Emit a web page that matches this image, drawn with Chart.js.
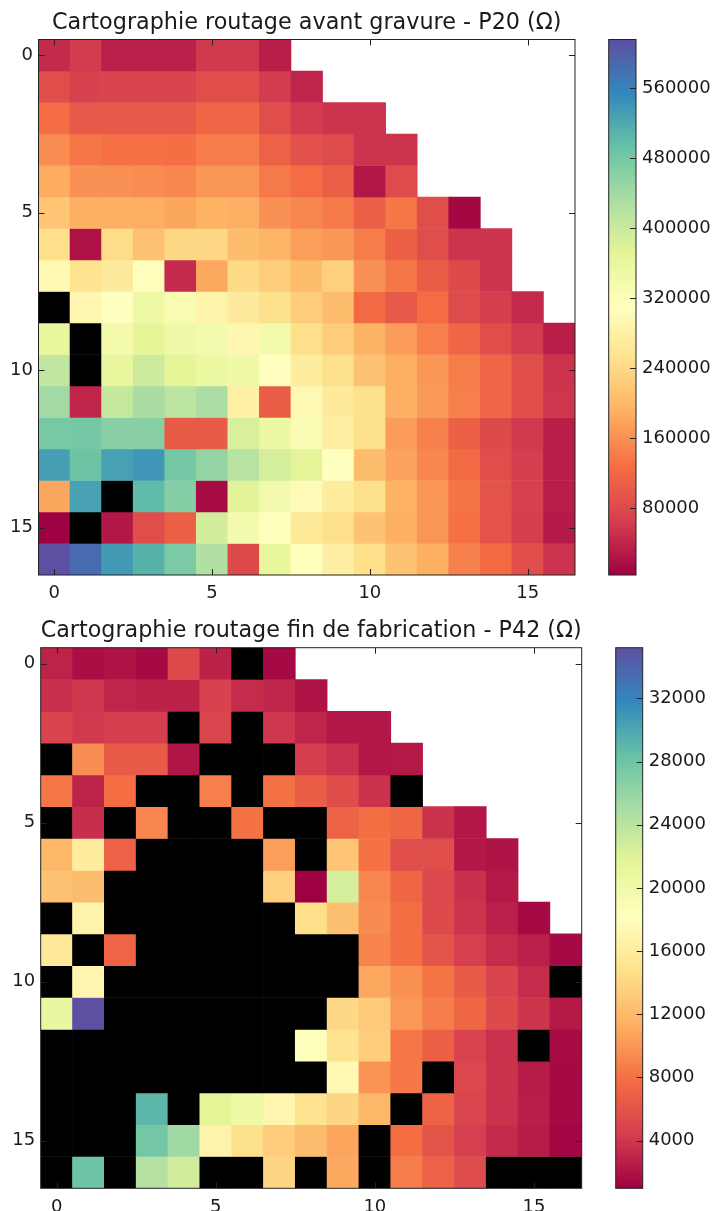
<!DOCTYPE html>
<html>
<head>
<meta charset="utf-8">
<script src="https://cdn.jsdelivr.net/npm/chart.js@4"></script>
<style>
body { margin: 0; background: #fff; }
canvas { position: absolute; }
</style>
</head>
<body>
<canvas id="map1" width="590" height="605" style="left:0;top:0"></canvas>
<canvas id="bar1" width="115" height="605" style="left:600px;top:0"></canvas>
<canvas id="map2" width="597" height="606" style="left:0;top:605px"></canvas>
<canvas id="bar2" width="100" height="606" style="left:607px;top:605px"></canvas>
<script>
// X = dead die (black), short rows leave the wafer corner white
var X = -1;

var columns = ['0','1','2','3','4','5','6','7','8','9','10','11','12','13','14','15','16'];
var spectral = ['#9e0142','#d53e4f','#f46d43','#fdae61','#fee08b','#ffffbf','#e6f598','#abdda4','#66c2a5','#3288bd','#5e4fa2'];

var title1 = 'Cartographie routage avant gravure - P20 (Ω)';
var range1 = [3400, 615400];
var ticks1 = [80000, 160000, 240000, 320000, 400000, 480000, 560000];
var rows1 = [
    [45000,62000,34000,34000,34000,60000,60000,32000],
    [86000,70000,72000,72000,72000,85000,85000,62000,40000],
    [125000,100000,100000,100000,100000,115000,115000,85000,62000,55000,55000],
    [155000,135000,130000,130000,128000,140000,140000,112000,90000,82000,55000,55000],
    [185000,160000,160000,155000,150000,165000,163000,138000,125000,108000,24000,82000],
    [215000,190000,190000,187000,180000,192000,190000,160000,150000,138000,108000,135000,85000,10000],
    [248000,20000,245000,210000,240000,238000,205000,195000,172000,165000,140000,110000,85000,55000,55000],
    [295000,255000,268000,305000,45000,182000,242000,225000,205000,228000,160000,135000,105000,80000,55000],
    [X,292000,310000,350000,330000,285000,268000,250000,225000,205000,122000,100000,125000,82000,65000,45000],
    [365000,X,340000,370000,345000,338000,292000,340000,248000,225000,193000,170000,143000,115000,85000,62000,32000],
    [410000,X,362000,395000,370000,355000,348000,308000,272000,250000,212000,188000,165000,140000,115000,85000,55000],
    [440000,40000,405000,433000,415000,432000,280000,105000,295000,268000,250000,190000,168000,143000,115000,85000,57000],
    [478000,480000,463000,463000,103000,103000,385000,355000,325000,275000,250000,170000,145000,110000,80000,60000,32000],
    [530000,488000,528000,538000,480000,452000,418000,388000,372000,310000,205000,178000,150000,122000,85000,65000,32000],
    [180000,528000,X,500000,465000,14000,375000,338000,300000,272000,250000,192000,165000,133000,92000,68000,32000],
    [3500,X,26000,85000,108000,390000,338000,312000,265000,248000,212000,190000,163000,130000,92000,65000,28000],
    [615000,585000,535000,510000,475000,425000,80000,362000,312000,278000,248000,212000,188000,145000,122000,85000,55000]
];

var title2 = 'Cartographie routage fin de fabrication - P42 (Ω)';
var range2 = [983, 35208];
var ticks2 = [4000, 8000, 12000, 16000, 20000, 24000, 28000, 32000];
var rows2 = [
    [2900,1700,2000,1500,5250,2800,X,1500],
    [3550,3950,3000,2850,2800,4700,3400,3000,2000],
    [4800,4100,4400,4400,X,5000,X,4000,3000,2200,2200],
    [X,9540,6500,6500,2100,X,X,X,4400,3700,2200,2300],
    [8300,2900,7800,X,X,8800,X,8000,6700,5500,3800,X],
    [X,3500,X,9200,X,X,8100,X,X,7100,7900,7300,3800,2200],
    [11900,16000,7000,X,X,X,X,10400,X,12800,8100,5600,5600,2200,2000],
    [12600,12300,X,X,X,X,X,13500,1000,22500,9200,7300,5200,3600,2300],
    [X,16700,X,X,X,X,X,X,14700,12500,9400,7900,5300,3900,2700,1500],
    [15700,X,7200,X,X,X,X,X,X,X,9000,7900,6100,4500,3400,2700,1500],
    [X,17000,X,X,X,X,X,X,X,X,11000,9700,8200,6500,4900,3400,X],
    [20800,35208,X,X,X,X,X,X,X,14200,13200,10100,8700,7300,5300,3900,2400],
    [X,X,X,X,X,X,X,X,18300,15000,13400,8300,6900,4800,3700,X,1600],
    [X,X,X,X,X,X,X,X,X,17300,9900,8400,X,5100,3800,2500,1500],
    [X,X,X,29000,X,21500,20300,17000,15000,13900,11900,X,7100,5000,3700,2600,1500],
    [X,X,X,27700,25500,16800,14800,13300,12200,10800,X,7800,6100,4500,3300,2500,1300],
    [X,28000,X,24300,22800,X,X,14000,X,11000,X,8700,7000,5400,X,X,X]
];

var textFont = {family: '"DejaVu Sans"', size: 18};
var titleFont = {family: '"DejaVu Sans"', size: 22.3, weight: 'normal'};
var textColor = '#1a1a1a';

function hexToRgb(hex) {
    return [parseInt(hex.substr(1,2),16), parseInt(hex.substr(3,2),16), parseInt(hex.substr(5,2),16)];
}

function colorOf(value, range) {
    if(value == X) return '#000000';
    var t = Math.min(1, Math.max(0, (value - range[0]) / (range[1] - range[0]))) * (spectral.length - 1);
    var i = Math.min(Math.floor(t), spectral.length - 2);
    var a = hexToRgb(spectral[i]), b = hexToRgb(spectral[i + 1]);
    var c = a.map(function(v, k) { return Math.round(v + (b[k] - v) * (t - i)); });
    return 'rgb(' + c.join(',') + ')';
}

// matplotlib style frame with inward ticks
var framePlugin = {
    id: 'frame',
    afterDraw: function(chart) {
        var ctx = chart.ctx, a = chart.chartArea, opts = chart.options.plugins.frame;
        ctx.save();
        ctx.strokeStyle = '#222';
        ctx.lineWidth = 1;
        ctx.beginPath();
        var y = chart.scales.y;
        y.ticks.forEach(function(t, i) {
            var py = Math.round(y.getPixelForTick(i)) + 0.5;
            if(opts.leftTicks) { ctx.moveTo(a.left, py); ctx.lineTo(a.left + 6, py); }
            ctx.moveTo(a.right, py); ctx.lineTo(a.right - 6, py);
        });
        if(opts.xTicks) {
            var x = chart.scales.x;
            x.ticks.forEach(function(t, i) {
                var px = Math.round(x.getPixelForTick(i)) + 0.5;
                ctx.moveTo(px, a.top); ctx.lineTo(px, a.top + 6);
                ctx.moveTo(px, a.bottom); ctx.lineTo(px, a.bottom - 6);
            });
        }
        ctx.stroke();
        ctx.strokeRect(a.left, a.top, a.right - a.left, a.bottom - a.top);
        ctx.restore();
    }
};

function drawMap(id, title, rows, range, area) {
    var datasets = rows.map(function(row, r) {
        return {
            data: row.map(function() { return [r - 0.5, r + 0.5]; }),
            backgroundColor: row.map(function(v) { return colorOf(v, range); }),
            borderWidth: 0,
            grouped: false,
            barPercentage: 1,
            categoryPercentage: 1
        };
    });
    new Chart(document.getElementById(id), {
        type: 'bar',
        data: {labels: columns, datasets: datasets},
        plugins: [framePlugin],
        options: {
            responsive: false,
            animation: false,
            events: [],
            layout: {padding: {right: area.right, left: 0, top: 0, bottom: 0}},
            plugins: {
                legend: {display: false},
                tooltip: {enabled: false},
                frame: {leftTicks: true, xTicks: true},
                title: {
                    display: true,
                    fullSize: false,
                    text: title,
                    color: textColor,
                    font: titleFont,
                    padding: {top: area.top - 29.76, bottom: 3}
                }
            },
            scales: {
                x: {
                    grid: {display: false, drawTicks: false},
                    border: {display: false},
                    afterBuildTicks: function(s) {
                        s.ticks = s.ticks.filter(function(t) { return t.value % 5 == 0; });
                    },
                    afterFit: function(s) { s.height = area.bottom; },
                    ticks: {autoSkip: false, maxRotation: 0, color: textColor, font: textFont, padding: 8}
                },
                y: {
                    reverse: true,
                    min: -0.5,
                    max: 16.5,
                    grid: {display: false, drawTicks: false},
                    border: {display: false},
                    afterBuildTicks: function(s) {
                        s.ticks = [0, 5, 10, 15].map(function(v) { return {value: v}; });
                    },
                    afterFit: function(s) { s.width = area.left; },
                    ticks: {color: textColor, font: textFont, padding: 5.5}
                }
            }
        }
    });
}

function drawColorbar(id, range, tickValues, area) {
    new Chart(document.getElementById(id), {
        type: 'bar',
        data: {
            labels: [''],
            datasets: [{
                data: [range],
                borderWidth: 0,
                barPercentage: 1,
                categoryPercentage: 1,
                backgroundColor: function(c) {
                    var a = c.chart.chartArea;
                    if(!a) return '#fff';
                    var g = c.chart.ctx.createLinearGradient(0, a.bottom, 0, a.top);
                    spectral.forEach(function(col, i) { g.addColorStop(i / (spectral.length - 1), col); });
                    return g;
                }
            }]
        },
        plugins: [framePlugin],
        options: {
            responsive: false,
            animation: false,
            events: [],
            layout: {padding: {left: area.left, right: 0, top: area.top, bottom: area.bottom}},
            plugins: {
                legend: {display: false},
                tooltip: {enabled: false},
                frame: {leftTicks: false, xTicks: false}
            },
            scales: {
                x: {display: false},
                y: {
                    position: 'right',
                    min: range[0],
                    max: range[1],
                    grid: {display: false, drawTicks: false},
                    border: {display: false},
                    afterBuildTicks: function(s) {
                        s.ticks = tickValues.map(function(v) { return {value: v}; });
                    },
                    afterFit: function(s) { s.width = area.width; },
                    ticks: {
                        color: textColor,
                        font: textFont,
                        padding: 6,
                        callback: function(v) { return String(v); }
                    }
                }
            }
        }
    });
}

drawMap('map1', title1, rows1, range1, {left: 38.5, top: 39.5, right: 15, bottom: 30});
drawColorbar('bar1', range1, ticks1, {left: 8.7, top: 39.5, bottom: 30, width: 79});
drawMap('map2', title2, rows2, range2, {left: 40.7, top: 42.7, right: 15.3, bottom: 22.7});
drawColorbar('bar2', range2, ticks2, {left: 8.7, top: 42.7, bottom: 22.7, width: 64.3});
</script>
</body>
</html>
